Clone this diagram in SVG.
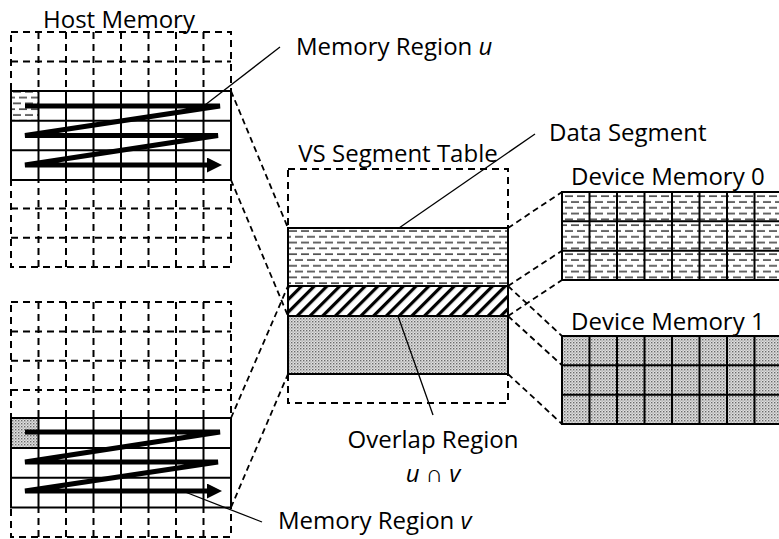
<svg xmlns="http://www.w3.org/2000/svg" width="779" height="539" viewBox="0 0 779 539">
  <style>
    .lbl { font-family: "Open Sans", "Liberation Sans", sans-serif; font-size: 24px; fill: #000; }
    .grid-dash { stroke: #000; stroke-width: 2; stroke-dasharray: 7 5; fill: none; }
    .solid { stroke: #000; stroke-width: 2; fill: none; }
    .conn { stroke: #000; stroke-width: 1.8; stroke-dasharray: 6 4; fill: none; }
    .leader { stroke: #000; stroke-width: 1.3; fill: none; }
    .scan { stroke: #000; stroke-width: 5; fill: none; stroke-linejoin: bevel; }
  </style>
  <defs>
    <!-- light horizontal dashes -->
    <pattern id="dashFill" width="12" height="11.6" patternUnits="userSpaceOnUse" x="288" y="228">
      <rect width="12" height="11.6" fill="#fff"/>
      <line x1="1" y1="3" x2="9" y2="3" stroke="#444" stroke-width="1.6"/>
      <line x1="7" y1="8.8" x2="15" y2="8.8" stroke="#444" stroke-width="1.6"/>
      <line x1="-5" y1="8.8" x2="3" y2="8.8" stroke="#444" stroke-width="1.6"/>
    </pattern>
    <!-- fine stipple -->
    <pattern id="dotFill" width="3" height="3" patternUnits="userSpaceOnUse">
      <rect width="3" height="3" fill="#e0e0e0"/>
      <rect x="0" y="0" width="1.4" height="1.4" fill="#6a6a6a"/>
      <rect x="1.5" y="1.5" width="1.2" height="1.2" fill="#999"/>
    </pattern>
    <!-- bold diagonal hatch -->
    <pattern id="hatchFill" width="9" height="9" patternUnits="userSpaceOnUse" patternTransform="rotate(45)">
      <rect width="9" height="9" fill="#fff"/>
      <rect x="0" y="0" width="3.2" height="9" fill="#000"/>
    </pattern>
    <marker id="scanHead" viewBox="0 0 10 10" refX="2" refY="5" markerWidth="3" markerHeight="3" orient="auto" markerUnits="strokeWidth">
      <path d="M0,0 L10,5 L0,10 Z" fill="#000"/>
    </marker>
  </defs>

  <!-- Host memory, upper block (region u) -->
  <g id="host-memory-u">
    <text class="lbl" x="119" y="28" text-anchor="middle">Host Memory</text>
    <rect class="grid-dash" x="11" y="32" width="220" height="235"/>
    <g class="grid-dash">
      <line x1="38.5" y1="32" x2="38.5" y2="267"/>
      <line x1="66" y1="32" x2="66" y2="267"/>
      <line x1="93.5" y1="32" x2="93.5" y2="267"/>
      <line x1="121" y1="32" x2="121" y2="267"/>
      <line x1="148.5" y1="32" x2="148.5" y2="267"/>
      <line x1="176" y1="32" x2="176" y2="267"/>
      <line x1="203.5" y1="32" x2="203.5" y2="267"/>
      <line x1="11" y1="61.4" x2="231" y2="61.4"/>
      <line x1="11" y1="208.4" x2="231" y2="208.4"/>
      <line x1="11" y1="237.8" x2="231" y2="237.8"/>
    </g>
    <rect x="11" y="91" width="220" height="89" fill="#fff"/>
    <rect x="11" y="91" width="27.5" height="29.7" fill="url(#dashFill)"/>
    <g class="solid">
      <rect x="11" y="91" width="220" height="89"/>
      <line x1="11" y1="120.7" x2="231" y2="120.7"/>
      <line x1="11" y1="150.3" x2="231" y2="150.3"/>
      <line x1="38.5" y1="91" x2="38.5" y2="180"/>
      <line x1="66" y1="91" x2="66" y2="180"/>
      <line x1="93.5" y1="91" x2="93.5" y2="180"/>
      <line x1="121" y1="91" x2="121" y2="180"/>
      <line x1="148.5" y1="91" x2="148.5" y2="180"/>
      <line x1="176" y1="91" x2="176" y2="180"/>
      <line x1="203.5" y1="91" x2="203.5" y2="180"/>
    </g>
    <polyline class="scan" points="25,106 220,106 25,135.5 218,135.5 25,165 210,165" marker-end="url(#scanHead)"/>
  </g>

  <!-- Host memory, lower block (region v) -->
  <g id="host-memory-v">
    <rect class="grid-dash" x="11" y="302" width="220" height="235"/>
    <g class="grid-dash">
      <line x1="38.5" y1="302" x2="38.5" y2="537"/>
      <line x1="66" y1="302" x2="66" y2="537"/>
      <line x1="93.5" y1="302" x2="93.5" y2="537"/>
      <line x1="121" y1="302" x2="121" y2="537"/>
      <line x1="148.5" y1="302" x2="148.5" y2="537"/>
      <line x1="176" y1="302" x2="176" y2="537"/>
      <line x1="203.5" y1="302" x2="203.5" y2="537"/>
      <line x1="11" y1="331.4" x2="231" y2="331.4"/>
      <line x1="11" y1="360.8" x2="231" y2="360.8"/>
      <line x1="11" y1="390" x2="231" y2="390"/>
    </g>
    <rect x="11" y="418" width="220" height="89.5" fill="#fff"/>
    <rect x="11" y="418" width="27.5" height="30" fill="url(#dotFill)"/>
    <g class="solid">
      <rect x="11" y="418" width="220" height="89.5"/>
      <line x1="11" y1="448" x2="231" y2="448"/>
      <line x1="11" y1="477.7" x2="231" y2="477.7"/>
      <line x1="38.5" y1="418" x2="38.5" y2="507.5"/>
      <line x1="66" y1="418" x2="66" y2="507.5"/>
      <line x1="93.5" y1="418" x2="93.5" y2="507.5"/>
      <line x1="121" y1="418" x2="121" y2="507.5"/>
      <line x1="148.5" y1="418" x2="148.5" y2="507.5"/>
      <line x1="176" y1="418" x2="176" y2="507.5"/>
      <line x1="203.5" y1="418" x2="203.5" y2="507.5"/>
    </g>
    <polyline class="scan" points="25,432 220,432 25,462 218,462 25,491 210,491" marker-end="url(#scanHead)"/>
  </g>

  <!-- VS segment table -->
  <g id="vs-segment-table">
    <text class="lbl" x="398" y="162" text-anchor="middle">VS Segment Table</text>
    <rect class="grid-dash" x="288" y="169" width="220" height="234"/>
    <rect x="288" y="228" width="220" height="58" fill="url(#dashFill)"/>
    <rect x="288" y="286" width="220" height="30" fill="url(#hatchFill)"/>
    <rect x="288" y="316" width="220" height="58" fill="url(#dotFill)"/>
    <g class="solid">
      <rect x="288" y="228" width="220" height="146"/>
      <line x1="288" y1="286" x2="508" y2="286"/>
      <line x1="288" y1="316" x2="508" y2="316"/>
    </g>
  </g>

  <!-- Device memory 0 -->
  <g id="device-memory-0">
    <text class="lbl" x="571" y="185">Device Memory 0</text>
    <rect x="562" y="192" width="220" height="88" fill="url(#dashFill)"/>
    <g class="solid">
      <rect x="562" y="192" width="220" height="88"/>
      <line x1="562" y1="221.3" x2="782" y2="221.3"/>
      <line x1="562" y1="250.7" x2="782" y2="250.7"/>
      <line x1="589.5" y1="192" x2="589.5" y2="280"/>
      <line x1="617" y1="192" x2="617" y2="280"/>
      <line x1="644.5" y1="192" x2="644.5" y2="280"/>
      <line x1="672" y1="192" x2="672" y2="280"/>
      <line x1="699.5" y1="192" x2="699.5" y2="280"/>
      <line x1="727" y1="192" x2="727" y2="280"/>
      <line x1="754.5" y1="192" x2="754.5" y2="280"/>
    </g>
  </g>

  <!-- Device memory 1 -->
  <g id="device-memory-1">
    <text class="lbl" x="571" y="330">Device Memory 1</text>
    <rect x="562" y="336" width="220" height="88" fill="url(#dotFill)"/>
    <g class="solid">
      <rect x="562" y="336" width="220" height="88"/>
      <line x1="562" y1="365.3" x2="782" y2="365.3"/>
      <line x1="562" y1="394.7" x2="782" y2="394.7"/>
      <line x1="589.5" y1="336" x2="589.5" y2="424"/>
      <line x1="617" y1="336" x2="617" y2="424"/>
      <line x1="644.5" y1="336" x2="644.5" y2="424"/>
      <line x1="672" y1="336" x2="672" y2="424"/>
      <line x1="699.5" y1="336" x2="699.5" y2="424"/>
      <line x1="727" y1="336" x2="727" y2="424"/>
      <line x1="754.5" y1="336" x2="754.5" y2="424"/>
    </g>
  </g>

  <!-- Labels -->
  <g id="label-region-u">
    <text class="lbl" x="296" y="55">Memory Region <tspan font-style="italic">u</tspan></text>
  </g>
  <g id="label-data-segment">
    <text class="lbl" x="549" y="141">Data Segment</text>
  </g>
  <g id="label-overlap">
    <text class="lbl" x="433" y="448" text-anchor="middle">Overlap Region</text>
    <text class="lbl" x="433" y="482" text-anchor="middle"><tspan font-style="italic">u</tspan> ∩ <tspan font-style="italic">v</tspan></text>
  </g>
  <g id="label-region-v">
    <text class="lbl" x="278" y="529">Memory Region <tspan font-style="italic">v</tspan></text>
  </g>

  <!-- Connectors: mapping lines and label leaders -->
  <g id="connectors">
    <line class="conn" x1="231" y1="91" x2="288" y2="228"/>
    <line class="conn" x1="231" y1="180" x2="288" y2="316"/>
    <line class="conn" x1="231" y1="418" x2="288" y2="286"/>
    <line class="conn" x1="231" y1="507.5" x2="288" y2="374"/>
    <line class="conn" x1="508" y1="228" x2="562" y2="192"/>
    <line class="conn" x1="508" y1="286" x2="562" y2="250.7"/>
    <line class="conn" x1="508" y1="316" x2="562" y2="280"/>
    <line class="conn" x1="508" y1="286" x2="562" y2="336"/>
    <line class="conn" x1="508" y1="316" x2="562" y2="365.3"/>
    <line class="conn" x1="508" y1="374" x2="562" y2="424"/>
    <line class="leader" x1="205" y1="105" x2="280" y2="47"/>
    <line class="leader" x1="399" y1="228" x2="535" y2="134"/>
    <line class="leader" x1="398" y1="316" x2="433" y2="415"/>
    <line class="leader" x1="180" y1="490" x2="262" y2="522"/>
  </g>
</svg>
